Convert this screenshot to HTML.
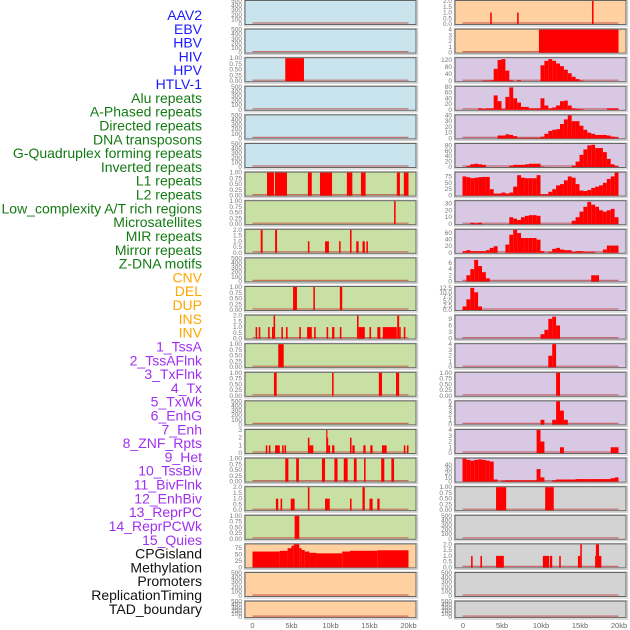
<!DOCTYPE html>
<html><head><meta charset="utf-8"><style>
html,body{margin:0;padding:0;background:#fff;width:630px;height:630px;overflow:hidden}
svg{display:block;font-family:"Liberation Sans",sans-serif}
</style></head><body>
<svg id="chart" width="630" height="630" viewBox="0 0 630 630"></svg>
<script>
const labels = ["AAV2","EBV","HBV","HIV","HPV","HTLV-1","Alu repeats","A-Phased repeats","Directed repeats","DNA transposons","G-Quadruplex forming repeats","Inverted repeats","L1 repeats","L2 repeats","Low_complexity A/T rich regions","Microsatellites","MIR repeats","Mirror repeats","Z-DNA motifs","CNV","DEL","DUP","INS","INV","1_TssA","2_TssAFlnk","3_TxFlnk","4_Tx","5_TxWk","6_EnhG","7_Enh","8_ZNF_Rpts","9_Het","10_TssBiv","11_BivFlnk","12_EnhBiv","13_ReprPC","14_ReprPCWk","15_Quies","CPGisland","Methylation","Promoters","ReplicationTiming","TAD_boundary"];
const labelGroups = [6,13,5,15,5];
const groupColors = ["#1a1aff","#137a13","#ffa500","#a030f0","#111"];
const xTicks = [0,5,10,15,20];
const xTickLabels = ["0","5kb","10kb","15kb","20kb"];

const leftBg = ["b","b","b","b","b","b","g","g","g","g","g","g","g","g","g","g","g","g","g","p","p","p"];
const leftMax = [500,500,1,500,500,500,1,1,2,500,1,2,1,1,500,3,1,2,1,90,500,500];
const leftTicks = ["500","500","1","500","500","500","1","1","2","500","1","2","1","1","500","3","1","2","1","cpg","500","500"];
const leftSegs = [
 [],[],[[4.2,6.6,1]],[],[],[],
 [[1.86,2.76,1],[2.88,4.42,1],[7.1,7.6,1],[8.65,10.2,1],[12.1,12.8,1],[13.9,14.5,1],[18.5,18.9,1],[19.4,20,1]],
 [[18.15,18.35,1]],
 [[1.05,1.3,2],[2.9,3.15,2],[7.1,7.3,1],[9.3,9.8,1],[11.1,11.3,1],[12.5,12.7,2],[13.3,13.6,1],[14.1,14.4,1],[14.6,14.8,1]],
 [],
 [[5.2,5.7,1],[7.8,8.0,1],[11.2,11.5,1]],
 [[0.4,0.6,1],[0.8,1.0,1],[2.0,2.2,1],[2.5,2.7,1],[2.7,2.9,2],[3.7,3.9,1],[4.3,4.5,1],[6.0,6.2,1],[7.0,7.6,1],[7.9,8.1,1],[9.5,9.7,1],[10.2,10.5,1],[11.2,11.4,1],[13.4,13.6,2],[13.6,14.4,1],[15.0,15.2,1],[16.0,16.4,1],[16.7,18.5,1],[18.55,18.8,2],[18.8,19.0,1],[19.4,19.6,1]],
 [[3.3,4.0,1]],
 [[2.75,3.1,1],[10.2,10.4,1],[16.2,16.6,1],[18.4,18.8,1]],
 [],
 [[1.7,1.9,1],[2.1,2.3,1],[2.9,3.5,1],[3.8,4.0,1],[4.1,4.3,1],[7.1,7.3,2],[7.3,7.8,1],[9.45,9.55,3],[9.55,9.7,2],[9.7,9.95,1],[10.2,10.5,1],[12.5,12.7,2],[12.8,13.1,1],[14.2,14.5,1],[15.1,15.4,1],[16.6,17.2,1],[19.4,19.6,1],[19.8,20,1]],
 [[4.2,4.6,1],[5.6,5.95,1],[8.9,9.3,1],[10.5,10.9,1],[11.7,12.2,1],[13.0,13.35,1],[14.3,14.5,1],[16.5,16.9,1],[17.8,18.15,1]],
 [[3.0,3.3,1],[3.6,3.8,1],[4.9,5.4,1],[7.1,7.3,2],[9.3,9.9,1],[12.5,12.7,1],[14.1,14.4,2],[15.0,15.4,1],[16.0,16.3,1]],
 [[5.4,6.0,1]],
 [[0,3.5,62],[3.5,4.5,65],[4.5,5.0,75],[5.0,5.3,85],[5.3,6.0,90],[6.0,6.3,75],[6.3,6.7,68],[6.7,7.3,62],[7.3,8.2,57],[8.2,11.5,55],[11.5,12.5,62],[12.5,16,65],[16,20,67]],
 [],[]
];

const rightBg = ["p","p","u","u","u","u","u","u","u","u","u","u","u","u","u","u","u","y","y","y","y","y"];
const rightMax = [2,4,130,80,40,85,90,33,70,7.5,13,10.5,4,1,5,4,55,1,500,2,500,500];
const rightTicks = ["2","4","120","80","40","80","cpg","30","60","6","12.5","9","4","1","5","4","40","1","500","2","500","500"];
const rightSegs = {
 0:[[3.55,3.75,1],[7.0,7.2,1],[16.6,16.8,2]],
 1:[[9.8,20,4]],
 17:[[4.3,5.6,1],[10.6,11.7,1]],
 19:[[1.1,1.3,1],[2.3,2.5,1],[4.3,5.3,1],[10.3,11.1,1],[11.2,11.5,1],[12.4,12.6,1],[14.8,15.1,1],[15.1,15.3,2],[17.0,17.1,1],[17.1,17.5,2],[17.5,17.8,1]]
};
const bins2 = [0,0,0,0,0,3,3,5,70,120,125,60,5,0,5,0,0,0,0,0,90,115,125,115,100,85,65,45,25,12,3,0,0,0,0,0,0,0,0,0];
const bins3 = [0,0,0,0,5,3,5,5,50,30,3,45,78,40,25,10,10,5,5,5,40,15,5,8,15,30,32,15,5,3,2,0,0,0,0,0,0,5,5,5];
const bins4 = [0,0,0,0,0,0,0,0,0,5,5,7,6,4,1,1,1,1,1,1,3,8,13,15,16,25,33,40,30,30,22,15,10,8,6,6,6,5,3,2];
const bins5 = [0,3,10,12,10,8,0,0,0,0,0,0,5,8,8,8,10,12,12,12,1,0,0,0,0,0,0,0,5,20,45,65,80,82,70,70,55,30,10,3];
const bins6 = [75,72,68,70,72,73,73,25,8,8,12,8,12,35,80,70,68,68,68,80,5,5,15,25,40,45,60,75,70,45,20,18,22,30,35,40,50,65,75,90];
const bins7 = [0,0,2,1,2,0,0,0,0,0,0,0,10,8,6,10,12,13,13,12,0,0,0,0,0,0,0,0,5,10,18,25,32,28,25,20,18,20,22,10];
const bins8 = [5,8,5,5,5,5,8,15,20,0,0,25,55,70,60,45,45,45,45,40,5,0,3,12,15,10,8,8,3,5,5,3,3,3,0,0,10,22,22,22];
const bins9 = [0,2,4,7,5,3,1,0,0,0,0,0,0,0,0,0,0,0,0,0,0,0,0,0,0,0,0,0,0,0,0,0,0,2,2,0,0,0,0,0];
const bins10 = [2,6,12.5,10,2,0,0,0,0,0,0,0,0,0,0,0,0,0,0,0,0,0,0,0,0,0,0,0,0,0,0,0,0,0,0,0,0,0,0,0];
const bins11 = [0,0,0,0,0,0,0,0,0,0,0,0,0,0,0,0,0,0,0,0,2,4,9,10,6,0,0,0,0,0,0,0,0,0,0,0,0,0,0,0];
const bins12 = [0,0,0,0,0,0,0,0,0,0,0,0,0,0,0,0,0,0,0,0,0,0,2,4,0,0,0,0,0,0,0,0,0,0,0,0,0,0,0,0];
const bins13 = [0,0,0,0,0,0,0,0,0,0,0,0,0,0,0,0,0,0,0,0,0,0,0,0,1,0,0,0,0,0,0,0,0,0,0,0,0,0,0,0];
const bins14 = [0,0,0,0,0,0,0,0,0,0,0,0,0,0,0,0,0,0,0,0,1,0,0,1,5,3,1,0,0,0,0,0,0,0,0,0,0,0,0,0];
const bins15 = [0,0,0,0,0,0,0,0,0,0,0,0,0,0,0,0,0,0,0,4,2,0,0,0,0,1,0,0,0,0,0,0,0,0,0,0,0,0,1,1];
const bins16 = [55,52,50,52,53,52,50,48,5,0,2,3,3,3,3,3,3,3,3,30,10,0,0,3,5,5,5,5,5,6,6,6,6,6,6,6,6,6,8,10];
const rightBins = {2:bins2,3:bins3,4:bins4,5:bins5,6:bins6,7:bins7,8:bins8,9:bins9,10:bins10,11:bins11,12:bins12,13:bins13,14:bins14,15:bins15,16:bins16};

const tickSets = {
 "500":[0,100,200,300,400,500],"1":[0,0.25,0.5,0.75,1],"2":[0,0.5,1,1.5,2],"3":[0,1,2,3],
 "4":[0,1,2,3,4],"120":[0,40,80,120],"80":[0,20,40,60,80],"40":[0,10,20,30,40],"cpg":[0,25,50,75],
 "30":[0,10,20,30],"60":[0,20,40,60],"6":[0,2,4,6],"12.5":[0,2.5,5,7.5,10,12.5],"9":[0,3,6,9],
 "5":[0,1,2,3,4,5]
};
const bgColors = {b:"#c9e4ec",g:"#c8e0a4",p:"#ffd0a0",u:"#d8c8e4",y:"#d3d3d3"};

const svg = document.getElementById('chart');
const NS = "http://www.w3.org/2000/svg";
function mk(tag, attrs, parent){const e=document.createElementNS(NS,tag);for(const k in attrs)e.setAttribute(k,attrs[k]);(parent||svg).appendChild(e);return e;}

let gi=0, cnt=0;
labels.forEach((t,i)=>{
  while(cnt>=labelGroups[gi]){cnt-=labelGroups[gi];gi++;}
  cnt++;
  const el=mk('text',{x:202,y:(20+i*13.81).toFixed(1),'text-anchor':'end','font-size':14,fill:groupColors[gi]});
  el.textContent=t;
  
  
});

const ROWSTEP=28.6;
function fmt(v,key){
  if(key==="1") return v.toFixed(2);
  if(key==="2"||key==="12.5") return v.toFixed(1);
  return String(v);
}
function drawPanel(col,row,bg,ymax,tkey,segs){
  const px0 = col===0?245:455;
  const x0 = px0+7.5, kbW = 7.8;
  const xs = kb=>x0+kb*kbW;
  const top = row*ROWSTEP+0.5;
  const h = row===21?16.5:24;
  const bottom = top+h-0.5;
  const g=mk('g',{});
  
  
  mk('rect',{x:px0-0.5,y:top-0.5,width:173,height:h+2,fill:'none',stroke:'#ccc','stroke-width':1.2},g);
  mk('rect',{x:px0,y:top,width:171,height:h,fill:bgColors[bg],stroke:'#666','stroke-width':1},g);
  const ys = v=>bottom - v/ymax*(h-1);
  (tickSets[tkey]||[]).forEach(v=>{
    if(v>ymax+1e-9 && tkey!=="500") return;
    const yy = tkey==="500"? bottom - v/500*(h-1) : ys(v);
    const t=mk('text',{x:px0-3,y:(yy+2).toFixed(1),'text-anchor':'end','font-size':6.5,fill:'#777'},g);
    t.textContent=fmt(v,tkey);
    
    
  });
  mk('line',{x1:xs(0),x2:xs(20),y1:bottom-1,y2:bottom-1,stroke:'#c04040','stroke-opacity':0.7,'stroke-width':1.2},g);
  segs.forEach(s=>{
    const r=mk('rect',{x:xs(s[0]).toFixed(2),y:ys(s[2]).toFixed(2),width:Math.max(1.2,(s[1]-s[0])*kbW).toFixed(2),height:(bottom-ys(s[2])).toFixed(2),fill:'#ff0000'},g);
    
    
  });
}
for(let r=0;r<22;r++){
  drawPanel(0,r,leftBg[r],leftMax[r],leftTicks[r],leftSegs[r]);
  let segs = rightSegs[r]||[];
  if(rightBins[r]) segs = rightBins[r].map((v,i)=>[i*0.5,i*0.5+0.5,v]).filter(s=>s[2]>0);
  drawPanel(1,r,rightBg[r],rightMax[r],rightTicks[r],segs);
}
[252.5,463].forEach((x0,ci)=>{
  xTicks.forEach((k,i)=>{
    const t=mk('text',{x:x0+k*7.8,y:628,'text-anchor':'middle','font-size':7.5,fill:'#666'});
    t.textContent=xTickLabels[i];
    
    
  });
});
</script>
</body></html>
